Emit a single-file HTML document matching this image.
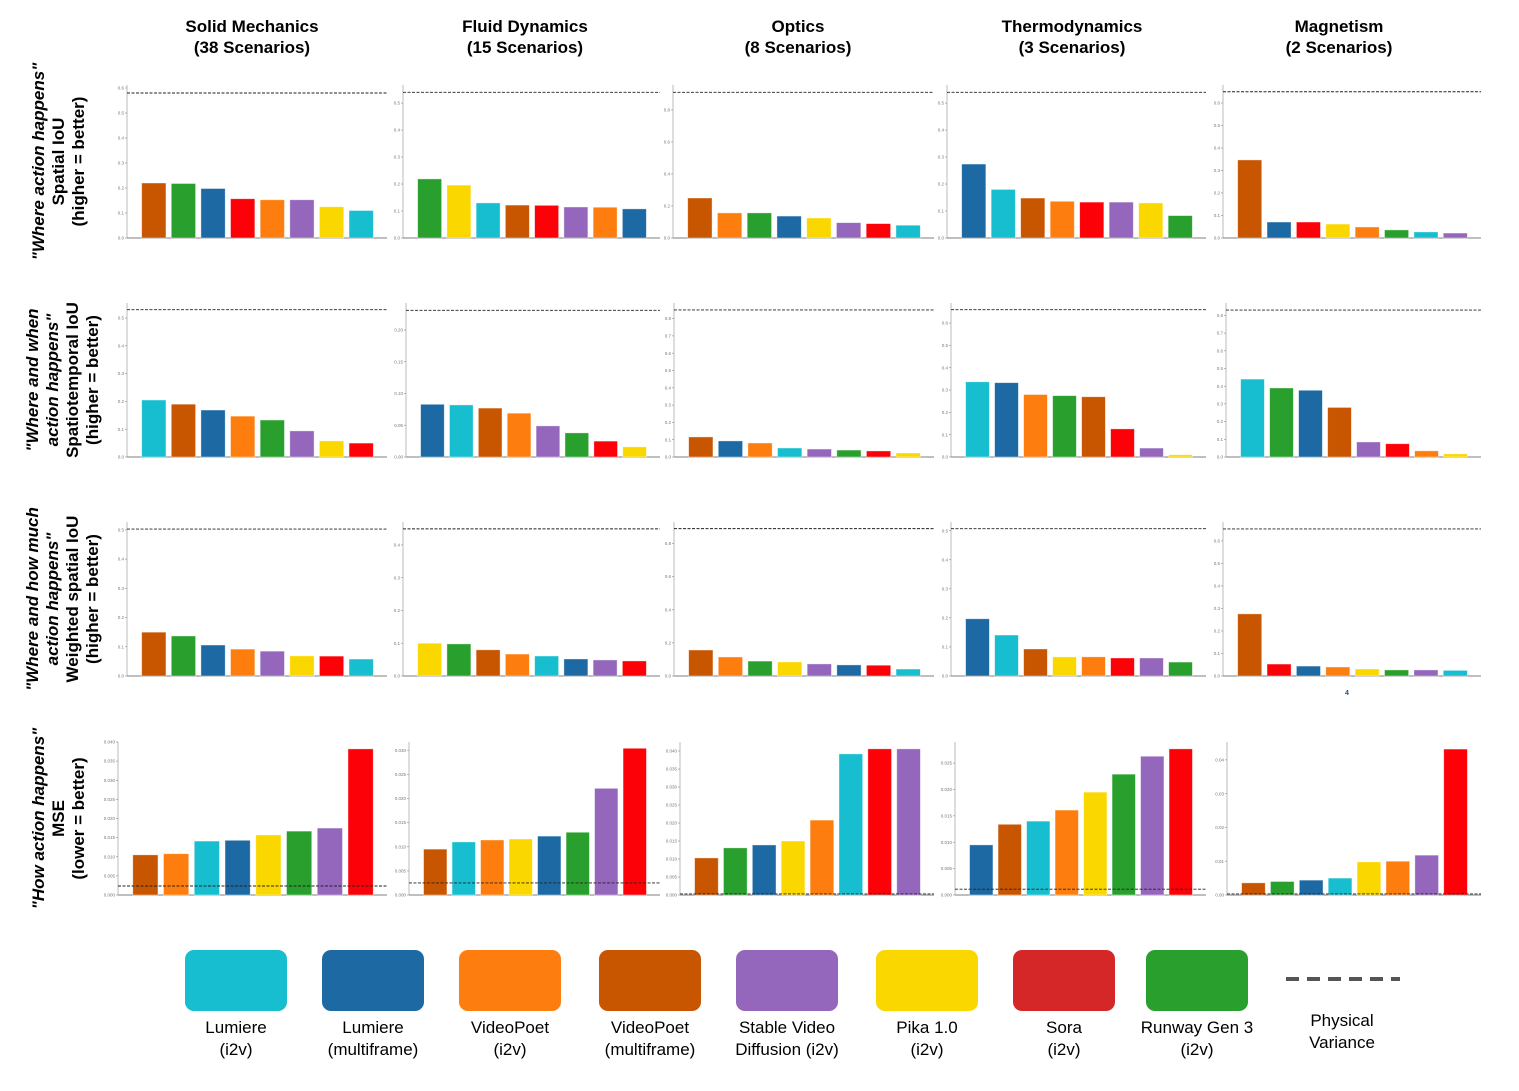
<!DOCTYPE html>
<html><head><meta charset="utf-8"><style>
html,body{margin:0;padding:0;background:#fff;}
body{width:1519px;height:1086px;overflow:hidden;font-family:"Liberation Sans",sans-serif;}
</style></head><body>
<svg id="chart" width="1519" height="1086" viewBox="0 0 1519 1086" xmlns="http://www.w3.org/2000/svg" font-family="Liberation Sans, sans-serif"></svg>
<script>
// ---- data ----
const columnTitles = [["Solid Mechanics","(38 Scenarios)"],["Fluid Dynamics","(15 Scenarios)"],["Optics","(8 Scenarios)"],["Thermodynamics","(3 Scenarios)"],["Magnetism","(2 Scenarios)"]];
const rowLabels = [
 [["\"Where action happens\"",1],["Spatial IoU",0],["(higher = better)",0]],
 [["\"Where and when",1],["action happens\"",1],["Spatiotemporal IoU",0],["(higher = better)",0]],
 [["\"Where and how much",1],["action happens\"",1],["Weighted spatial IoU",0],["(higher = better)",0]],
 [["\"How action happens\"",1],["MSE",0],["(lower = better)",0]]
];
const models = ["Lumiere (i2v)","Lumiere (multiframe)","VideoPoet (i2v)","VideoPoet (multiframe)","Stable Video Diffusion (i2v)","Pika 1.0 (i2v)","Sora (i2v)","Runway Gen 3 (i2v)"];
const legendLine1 = ["Lumiere","Lumiere","VideoPoet","VideoPoet","Stable Video","Pika 1.0","Sora","Runway Gen 3"];
const legendLine2 = ["(i2v)","(multiframe)","(i2v)","(multiframe)","Diffusion (i2v)","(i2v)","(i2v)","(i2v)"];
const order = [
 ["WGBROPYC","GYCWRPOB","WOGBYPRC","BCWORPYG","WBRYOGCP"],
 ["CWBOGPYR","BCWOPGRY","WBOCPGRY","CBOGWRPY","CGBWPROY"],
 ["WGBOPYRC","YGWOCBPR","WOGYPBRC","BCWYORPG","WRBOYGPC"],
 ["WOCBYGPR","WCOYBGPR","WGBYOCRP","BWCOYGPR","WGBCYOPR"]
];
const values = [
 [[0.22,0.218,0.198,0.157,0.153,0.153,0.125,0.11],[0.219,0.196,0.13,0.122,0.121,0.115,0.114,0.108],[0.25,0.157,0.157,0.137,0.125,0.096,0.09,0.08],[0.274,0.18,0.148,0.136,0.133,0.133,0.13,0.083],[0.347,0.071,0.071,0.062,0.049,0.036,0.027,0.022]],
 [[0.205,0.19,0.169,0.147,0.133,0.094,0.058,0.05],[0.083,0.082,0.077,0.069,0.049,0.038,0.025,0.016],[0.116,0.093,0.081,0.052,0.046,0.04,0.035,0.023],[0.337,0.333,0.28,0.275,0.27,0.126,0.04,0.01],[0.44,0.39,0.377,0.28,0.085,0.075,0.035,0.018]],
 [[0.15,0.137,0.106,0.092,0.085,0.069,0.068,0.058],[0.1,0.098,0.08,0.067,0.061,0.052,0.049,0.046],[0.157,0.115,0.09,0.085,0.073,0.067,0.065,0.042],[0.197,0.141,0.093,0.066,0.066,0.062,0.062,0.048],[0.276,0.053,0.044,0.04,0.031,0.027,0.027,0.025]],
 [[0.0105,0.0108,0.0141,0.0143,0.0157,0.0167,0.0175,0.0382],[0.0095,0.011,0.0114,0.0116,0.0122,0.013,0.0221,0.0304],[0.0103,0.0131,0.0139,0.015,0.0208,0.0392,0.0406,0.0406],[0.0095,0.0134,0.014,0.0161,0.0195,0.0229,0.0263,0.0277],[0.0036,0.004,0.0044,0.005,0.0098,0.01,0.0118,0.0432]]
];
const physicalVariance = [
 [0.58,0.54,0.91,0.54,0.65],
 [0.53,0.231,0.85,0.66,0.83],
 [0.503,0.449,0.89,0.507,0.653],
 [0.00235,0.0025,0.0003,0.0011,0.0003]
];
const yMax = [
 [0.612,0.567,0.956,0.567,0.68],
 [0.554,0.2425,0.89,0.69,0.87],
 [0.527,0.47,0.93,0.53,0.684],
 [0.040,0.0317,0.0425,0.029,0.0453]
];
const tickStep = [[0.1,0.1,0.2,0.1,0.1],[0.1,0.05,0.1,0.1,0.1],[0.1,0.1,0.2,0.1,0.1],[0.005,0.005,0.005,0.005,0.01]];
const tickTop = [[0.6,0.5,0.8,0.5,0.6],[0.5,0.2,0.8,0.6,0.8],[0.5,0.4,0.8,0.5,0.6],[0.04,0.03,0.04,0.025,0.04]];
const tickDecimals = [[1,1,1,1,1],[1,2,1,1,1],[1,1,1,1,1],[3,3,3,3,2]];

// ---- layout ----
const colorMap = {C:"#17becf",B:"#1c69a4",O:"#fd7e0e",W:"#c85500",P:"#9467bd",Y:"#fbd700",R:"#fc0108",G:"#29a02d"};
const legendColors = ["#17becf","#1c69a4","#fd7e0e","#c85500","#9467bd","#fbd700","#d62728","#29a02d"];
const rowTop = [85,303,522,742], rowBase = [238,457,676,895];
const colLeft = [[127,403,673,947,1223],[127,406,674,951,1226],[127,403,674,951,1223],[118,409,680,955,1227]];
const colRight = [387,660,934,1206,1481];
const titleCenters = [252,525,798,1072,1339];
const NS = "http://www.w3.org/2000/svg";
const svg = document.getElementById('chart');
function mk(tag, attrs, parent){const e=document.createElementNS(NS,tag);for(const k in attrs)e.setAttribute(k,attrs[k]);(parent||svg).appendChild(e);return e;}

columnTitles.forEach((t,c)=>{
  const cx=titleCenters[c];
  const g=mk('text',{x:cx,y:32,'text-anchor':'middle','font-size':'17','font-weight':'bold',fill:'#000'});
  
  
  t.forEach((s,i)=>{const ts=mk('tspan',{x:cx,dy:i?21:0},g);ts.textContent=s;});
});
rowLabels.forEach((lines,r)=>{
  const cy=(rowTop[r]+rowBase[r])/2;
  const n=lines.length;
  const cxc = n==4?62:58;
  const g=mk('g',{transform:`translate(${cxc},${cy}) rotate(-90)`});
  
  
  lines.forEach((l,i)=>{
    const y=(i-(n-1)/2)*20+6;
    const t=mk('text',{x:0,y:y,'text-anchor':'middle','font-size':'17','font-weight':'bold','font-style':l[1]?'italic':'normal',fill:'#000'},g);
    t.textContent=l[0];
  });
});
for(let r=0;r<4;r++){
  for(let c=0;c<5;c++){
    const x0=colLeft[r][c], x1=colRight[c], yb=rowBase[r], yt=rowTop[r];
    const H=yb-yt, ym=yMax[r][c];
    const yS=v=>yb - v/ym*H;
    const g=mk('g',{});
    
    
    mk('line',{x1:x0,y1:yt,x2:x0,y2:yb,stroke:'#bbb','stroke-width':1},g);
    mk('line',{x1:x0,y1:yb,x2:x1,y2:yb,stroke:'#999','stroke-width':1.2},g);
    const st=tickStep[r][c];
    const nT=Math.round(tickTop[r][c]/st);
    for(let i=0;i<=nT;i++){
      const v=i*st, y=yS(v);
      mk('line',{x1:x0-2,y1:y,x2:x0,y2:y,stroke:'#888','stroke-width':0.6},g);
      const t=mk('text',{x:x0-3,y:y+1.6,'text-anchor':'end','font-size':'4.5',fill:'#777'},g);
      t.textContent=v.toFixed(tickDecimals[r][c]);
    }
    const inner=(x1-x0)-23, band=inner/8, bw=band*0.82;
    values[r][c].forEach((v,i)=>{
      const bx=x0+12+band*i+(band-bw)/2;
      const col=colorMap[order[r][c][i]];
      const b=mk('rect',{x:bx,y:yS(v),width:bw,height:yb-yS(v),fill:col,stroke:'rgba(255,255,255,0.5)','stroke-width':0.8},g);
      
      
    });
    const pv=mk('line',{x1:x0,y1:yS(physicalVariance[r][c]),x2:x1,y2:yS(physicalVariance[r][c]),stroke:'#222','stroke-width':0.9,'stroke-dasharray':'3,1.5'},g);
    
    
  }
}
const four=mk('text',{x:1347,y:695,'text-anchor':'middle','font-size':'7','font-weight':'bold',fill:'#1c4f8a'});
four.textContent='4';


const legX=[185,322,459,599,736,876,1013,1146];
legX.forEach((x,i)=>{
  const g=mk('g',{});
  
  
  mk('rect',{x:x,y:950,width:102,height:61,rx:9,fill:legendColors[i]},g);
  const t1=mk('text',{x:x+51,y:1033,'text-anchor':'middle','font-size':'17',fill:'#000'},g);t1.textContent=legendLine1[i];
  const t2=mk('text',{x:x+51,y:1055,'text-anchor':'middle','font-size':'17',fill:'#000'},g);t2.textContent=legendLine2[i];
});
const lg=mk('g',{});


mk('line',{x1:1286,y1:979,x2:1400,y2:979,stroke:'#555','stroke-width':4,'stroke-dasharray':'13,8'},lg);
const p1=mk('text',{x:1342,y:1026,'text-anchor':'middle','font-size':'17',fill:'#000'},lg);p1.textContent='Physical';
const p2=mk('text',{x:1342,y:1048,'text-anchor':'middle','font-size':'17',fill:'#000'},lg);p2.textContent='Variance';
</script>
</body></html>
